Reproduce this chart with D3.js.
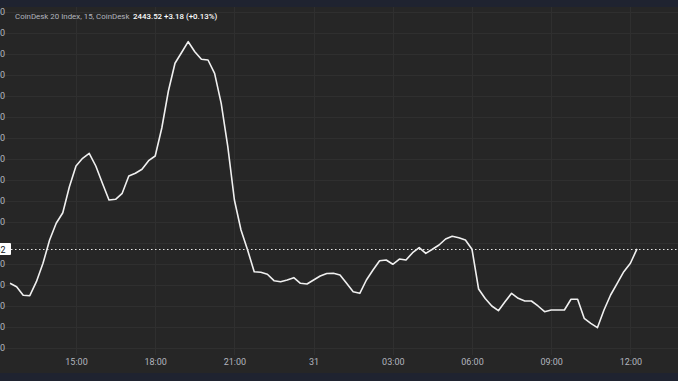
<!DOCTYPE html>
<head>
  <meta charset="utf-8">
  <style>
    body { margin: 0; background: #1f2330; }
    svg { display: block; }
    svg text { font-family: Roboto, "Noto Sans", sans-serif; }
    svg .grid { stroke: #2f2f2f; stroke-width: 1px; }
    svg .tick text { fill: #b2b5be; font-size: 9px; }
    svg .domain { display: none; }
  </style>
</head>

<body>
<script src="https://cdn.jsdelivr.net/npm/d3@7/dist/d3.min.js"></script>

<script>
  // 15 minute closes, 30 Mar 12:30 -> 31 Mar 12:15 (UTC)
  var closes = [
    2435.31, 2434.50, 2432.45, 2432.35, 2435.69, 2440.08, 2445.63, 2449.62,
    2452.14, 2458.34, 2463.28, 2465.11, 2466.31, 2463.28, 2459.15, 2455.17,
    2455.34, 2456.77, 2460.89, 2461.54, 2462.49, 2464.54, 2465.66, 2472.34,
    2481.16, 2487.77, 2490.34, 2492.92, 2490.53, 2488.72, 2488.55, 2485.38,
    2478.23, 2467.88, 2455.17, 2448.02, 2443.25, 2438.08, 2437.93, 2437.46,
    2435.93, 2435.69, 2436.10, 2436.65, 2435.31, 2435.14, 2436.10, 2437.05,
    2437.65, 2437.69, 2437.29, 2435.31, 2433.31, 2432.92, 2436.10, 2438.48,
    2440.70, 2440.86, 2439.84, 2441.10, 2440.86, 2442.61, 2443.80, 2442.46,
    2443.42, 2444.44, 2445.87, 2446.52, 2446.18, 2445.63, 2443.42, 2433.95,
    2431.69, 2429.90, 2428.78, 2430.92, 2432.92, 2431.73, 2431.09, 2431.09,
    2429.90, 2428.54, 2428.94, 2428.94, 2428.94, 2431.50, 2431.50, 2426.96,
    2425.77, 2424.72, 2428.94, 2432.52, 2435.31, 2438.08, 2440.08, 2443.52
  ];
  var firstTime = new Date(Date.UTC(2025, 2, 30, 12, 30));
  var yTicks = [2420, 2425, 2430, 2435, 2440, 2445, 2450, 2455, 2460,
                2465, 2470, 2475, 2480, 2485, 2490, 2495, 2500];
  var title = "CoinDesk 20 Index, 15, CoinDesk";
  var lastPrice = 2443.52, change = 3.18, changePct = 0.13;

  var width = 678, height = 381;

  var points = closes.map(function (v, i) {
    return { t: d3.utcMinute.offset(firstTime, 15 * i), v: v };
  });

  var svg = d3.select("body")
    .append("svg")
      .attr("width", width)
      .attr("height", height);

  // chart pane
  svg.append("rect")
      .attr("x", 0).attr("y", 7)
      .attr("width", width).attr("height", 366)
      .attr("fill", "#262626");

  var xScale = d3.scaleUtc()
      .domain([points[0].t, points[points.length - 1].t])
      .range([10, 637]);
  var yScale = d3.scaleLinear().domain([2420, 2500]).range([347.5, 12]);
  var yLast = Math.round(yScale(lastPrice)) + 0.5;

  // grid
  var xTickVals = xScale.ticks(d3.utcHour.every(3));
  svg.append("g").selectAll("line")
    .data(xTickVals)
    .enter().append("line")
      .classed("grid", true)
      .attr("x1", function (d) { return Math.round(xScale(d)) + 0.5; })
      .attr("x2", function (d) { return Math.round(xScale(d)) + 0.5; })
      .attr("y1", 7)
      .attr("y2", 355);
  svg.append("g").selectAll("line")
    .data(yTicks)
    .enter().append("line")
      .classed("grid", true)
      .attr("x1", 0)
      .attr("x2", width)
      .attr("y1", function (d) { return Math.round(yScale(d)) + 0.5; })
      .attr("y2", function (d) { return Math.round(yScale(d)) + 0.5; });

  // x axis
  var xAxis = d3.axisBottom(xScale)
      .tickValues(xTickVals)
      .tickSize(0)
      .tickPadding(0)
      .tickFormat(function (d) {
        return d.getUTCHours() === 0 ? d3.utcFormat("%-d")(d) : d3.utcFormat("%H:%M")(d);
      });
  svg.append("g")
      .attr("transform", "translate(0,359)")
      .call(xAxis);

  // y axis (left scale, mostly cropped off); the label under the price box is hidden
  var yAxis = d3.axisLeft(yScale)
      .tickValues(yTicks.filter(function (d) { return Math.abs(yScale(d) - yLast) > 8; }))
      .tickSize(0)
      .tickPadding(0)
      .tickFormat(d3.format(".2f"));
  svg.append("g")
      .attr("transform", "translate(5,0)")
      .call(yAxis);

  // price line
  var line = d3.line()
      .x(function (d) { return xScale(d.t); })
      .y(function (d) { return yScale(d.v); });
  svg.append("path")
      .datum(points)
      .attr("d", line)
      .attr("fill", "none")
      .attr("stroke", "#f0f0f0")
      .attr("stroke-width", 1.6)
      .attr("stroke-linejoin", "round");

  // last price marker
  svg.append("line")
      .attr("x1", 11).attr("x2", width)
      .attr("y1", yLast).attr("y2", yLast)
      .attr("stroke", "#e6e6e6")
      .attr("stroke-width", 1.2)
      .attr("stroke-dasharray", "1.5,2.5");
  svg.append("rect")
      .attr("x", -50).attr("y", yLast - 6.5)
      .attr("width", 61).attr("height", 12)
      .attr("rx", 1)
      .attr("fill", "#ffffff");
  svg.append("text")
      .attr("x", 5.5).attr("y", yLast + 3.5)
      .attr("text-anchor", "end")
      .style("font-size", "9px")
      .style("fill", "#131722")
      .text(d3.format(".2f")(lastPrice));

  // legend
  var legend = svg.append("text")
      .attr("y", 19)
      .style("font-size", "7.9px");
  legend.append("tspan")
      .attr("x", 15)
      .style("fill", "#b2b5be")
      .text(title);
  legend.append("tspan")
      .attr("x", 133)
      .style("fill", "#ffffff")
      .style("font-weight", "500")
      .text(d3.format(".2f")(lastPrice));
  legend.append("tspan")
      .attr("x", 164)
      .style("fill", "#ffffff")
      .style("font-weight", "500")
      .text(d3.format("+.2f")(change) + " (" + d3.format("+.2f")(changePct) + "%)");

</script>
</body>
</html>
